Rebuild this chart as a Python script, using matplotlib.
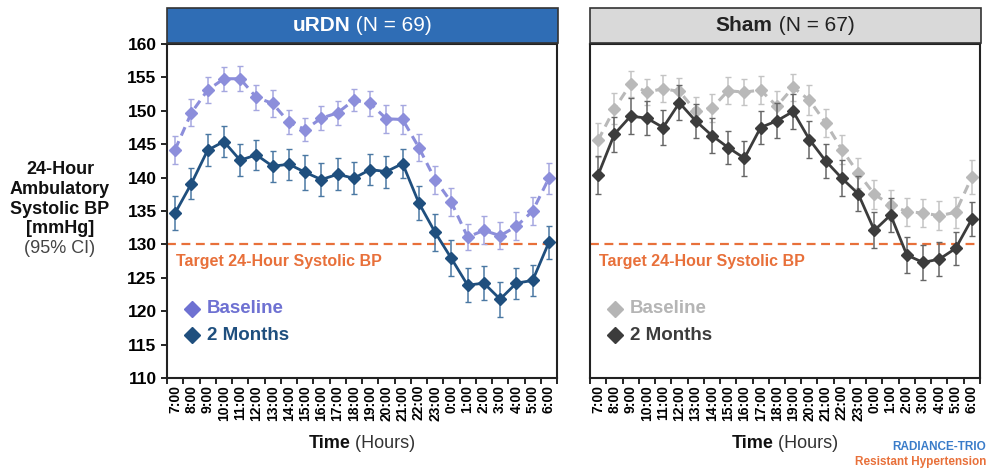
import matplotlib.pyplot as plt
from matplotlib.patches import Rectangle
import numpy as np

plt.rcParams['font.family'] = ['Liberation Sans', 'DejaVu Sans']

hours = ['7:00', '8:00', '9:00', '10:00', '11:00', '12:00', '13:00', '14:00',
         '15:00', '16:00', '17:00', '18:00', '19:00', '20:00', '21:00', '22:00',
         '23:00', '0:00', '1:00', '2:00', '3:00', '4:00', '5:00', '6:00']

# uRDN
rdn_base = [144.2, 149.7, 153.1, 154.8, 154.8, 152.0, 151.1, 148.3, 147.2, 148.9, 149.7, 151.6,
            151.1, 148.8, 148.7, 144.5, 139.7, 136.3, 131.1, 132.1, 131.3, 132.7, 135.0, 139.9]
rdn_base_ci = [2.1, 2.0, 1.9, 1.8, 1.9, 1.9, 2.0, 1.8, 1.7, 1.8, 1.8, 1.7,
               1.9, 2.1, 2.2, 2.0, 2.1, 2.1, 2.0, 2.1, 2.0, 2.1, 2.1, 2.3]
rdn_2m = [134.7, 139.1, 144.1, 145.4, 142.6, 143.4, 141.7, 142.0, 140.8, 139.7, 140.5, 139.9,
          141.2, 140.9, 142.1, 136.2, 131.8, 127.9, 123.9, 124.2, 121.8, 124.2, 124.6, 130.3]
rdn_2m_ci = [2.6, 2.3, 2.4, 2.3, 2.4, 2.3, 2.3, 2.3, 2.6, 2.5, 2.4, 2.4,
             2.3, 2.4, 2.2, 2.5, 2.8, 2.7, 2.5, 2.5, 2.6, 2.3, 2.3, 2.5]

# Sham
sham_base = [145.6, 150.3, 154.0, 152.8, 153.3, 152.9, 150.0, 150.4, 153.0, 152.8, 153.1, 150.7,
             153.5, 151.6, 148.2, 144.2, 140.7, 137.5, 135.9, 134.9, 134.7, 134.3, 134.8, 140.1]
sham_base_ci = [2.5, 2.3, 2.0, 2.0, 2.0, 2.0, 2.1, 2.1, 2.0, 1.9, 2.1, 2.2,
                2.0, 2.2, 2.1, 2.2, 2.3, 2.2, 2.3, 2.1, 2.1, 2.2, 2.3, 2.6]
sham_2m = [140.4, 146.5, 149.2, 148.9, 147.5, 151.2, 148.5, 146.3, 144.5, 142.9, 147.5, 148.5,
           149.9, 145.7, 142.5, 139.9, 137.6, 132.1, 134.4, 128.4, 127.3, 127.8, 129.4, 133.8]
sham_2m_ci = [2.8, 2.6, 2.7, 2.5, 2.6, 2.6, 2.5, 2.6, 2.5, 2.6, 2.5, 2.6,
              2.6, 2.7, 2.6, 2.7, 2.6, 2.7, 2.6, 2.7, 2.6, 2.6, 2.5, 2.6]

target = 130

fig = plt.figure(figsize=(9.92, 4.70), dpi=100)
W, H = 992, 470


def px(x0, y0, x1, y1):
    return [x0 / W, 1 - y1 / H, (x1 - x0) / W, (y1 - y0) / H]


orange = '#e8703a'
panels = [
    dict(box=(167, 44, 557, 378), base=rdn_base, base_ci=rdn_base_ci, m2=rdn_2m, m2_ci=rdn_2m_ci,
         c_base='#8c8edb', e_base='#a5a7e0', c_2m='#1f4f7e', e_2m='#4a78a3', leg_base='#6e71d2',
         bar='#2f6db5', bar_txt='white', name='uRDN', n='(N = 69)', yticks=True),
    dict(box=(590, 44, 980, 378), base=sham_base, base_ci=sham_base_ci, m2=sham_2m, m2_ci=sham_2m_ci,
         c_base='#b9b9b9', e_base='#c4c4c4', c_2m='#3c3c3c', e_2m='#666666', leg_base='#b5b5b5',
         bar='#d9d9d9', bar_txt='#222222', name='Sham', n='(N = 67)', yticks=False),
]

x = np.arange(len(hours))
renderer = fig.canvas.get_renderer()


def two_part(xc, yc, bold, normal, color, size, normal_color=None):
    t1 = fig.text(0, yc, bold, fontsize=size, fontweight='bold', color=color, va='center')
    t2 = fig.text(0, yc, ' ' + normal, fontsize=size, color=normal_color or color, va='center')
    w1 = t1.get_window_extent(renderer).width / W
    w2 = t2.get_window_extent(renderer).width / W
    start = xc - (w1 + w2) / 2
    t1.set_x(start)
    t2.set_x(start + w1)


for p in panels:
    x0, y0, x1, y1 = p['box']
    ax = fig.add_axes(px(x0, y0, x1, y1))
    ax.errorbar(x, p['base'], yerr=p['base_ci'], color=p['c_base'], ecolor=p['e_base'],
                linestyle='--', linewidth=2.2, marker='D', markersize=6, capsize=2.5,
                elinewidth=1.1, dashes=(3, 2), zorder=2)
    ax.errorbar(x, p['m2'], yerr=p['m2_ci'], color=p['c_2m'], ecolor=p['e_2m'],
                linestyle='-', linewidth=2.0, marker='D', markersize=6, capsize=2.5,
                elinewidth=1.1, zorder=3)
    ax.axhline(target, color=orange, linestyle='--', linewidth=1.6, dashes=(4, 2.5), zorder=1)
    ax.text(0.05, 127.4, 'Target 24-Hour Systolic BP', color=orange, fontsize=11.5,
            fontweight='bold', va='center', ha='left')
    ax.plot([1.05], [120.4], marker='D', color=p['leg_base'], markersize=8, linestyle='none')
    ax.text(1.95, 120.4, 'Baseline', color=p['leg_base'], fontsize=13.5, fontweight='bold',
            va='center')
    ax.plot([1.05], [116.4], marker='D', color=p['c_2m'], markersize=8, linestyle='none')
    ax.text(1.95, 116.4, '2 Months', color=p['c_2m'], fontsize=13.5, fontweight='bold',
            va='center')

    ax.set_xlim(-0.48, 23.45)
    ax.set_ylim(110, 160)
    ax.set_xticks(x)
    ax.set_xticklabels(hours, rotation=90, fontsize=10, fontweight='bold')
    ax.tick_params(axis='x', length=0, pad=5)
    ax.set_xticks(np.arange(-0.5, 24, 1), minor=True)
    ax.tick_params(axis='x', which='minor', length=4, width=1.2, direction='out')
    if p['yticks']:
        ax.set_yticks(np.arange(110, 161, 5))
        ax.set_yticklabels([str(v) for v in range(110, 161, 5)], fontsize=12.5, fontweight='bold')
        ax.tick_params(axis='y', length=4, width=1.2, direction='out')
    else:
        ax.set_yticks([])
    for s in ax.spines.values():
        s.set_linewidth(1.5)
        s.set_color('#222222')

    # title bar
    fig.patches.append(Rectangle((x0 / W, 1 - 43 / H), (x1 - x0 + 1) / W, 35 / H,
                                 transform=fig.transFigure, facecolor=p['bar'],
                                 edgecolor='#333333', linewidth=1.2, zorder=0))
    two_part((x0 + x1) / 2 / W, 1 - 25.5 / H, p['name'], p['n'], p['bar_txt'], 15)
    two_part((x0 + x1) / 2 / W, 1 - 444 / H, 'Time', '(Hours)', '#111111', 13, '#333333')

# y label
ylines = ['24-Hour', 'Ambulatory', 'Systolic BP', '[mmHg]']
for i, line in enumerate(ylines):
    fig.text(60 / W, 1 - (170 + i * 19.6) / H, line, fontsize=13, fontweight='bold',
             ha='center', va='center', color='#111111')
fig.text(60 / W, 1 - (170 + 4 * 19.6) / H, '(95% CI)', fontsize=13, ha='center',
         va='center', color='#444444')

fig.text(986 / W, 1 - 447 / H, 'RADIANCE-TRIO', fontsize=8.5, fontweight='bold',
         color='#3a7cc9', ha='right', va='center')
fig.text(986 / W, 1 - 462 / H, 'Resistant Hypertension', fontsize=8.5, fontweight='bold',
         color=orange, ha='right', va='center')

fig.savefig('out.png', dpi=100)
